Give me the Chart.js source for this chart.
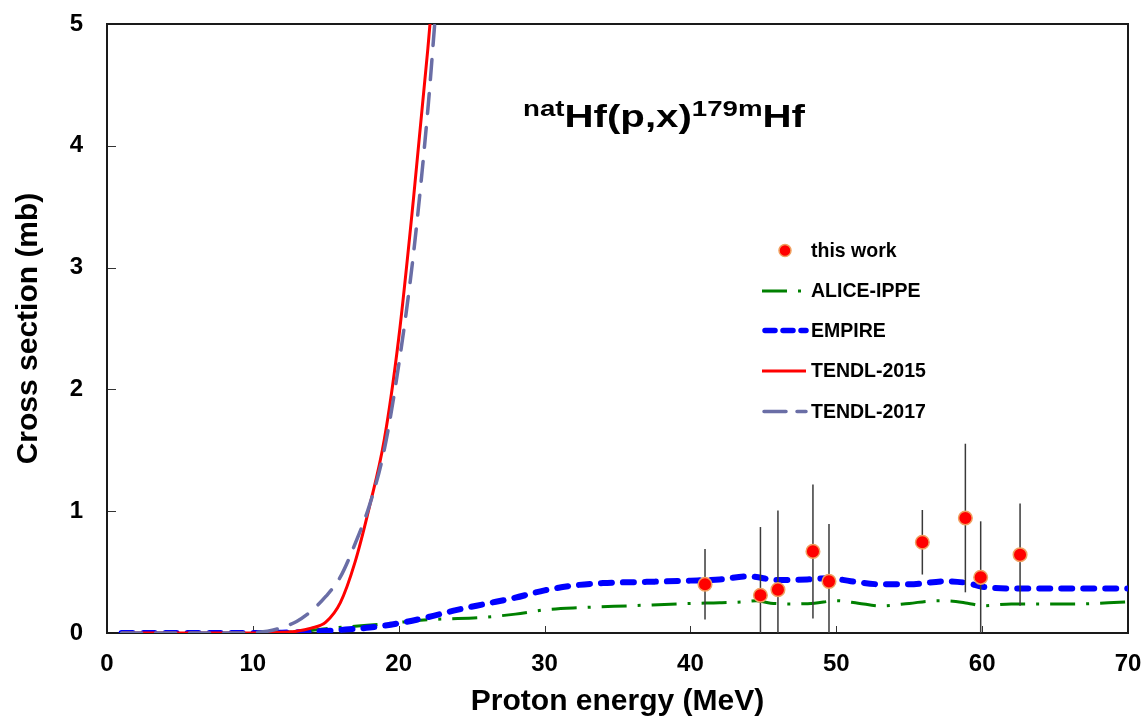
<!DOCTYPE html>
<html>
<head>
<meta charset="utf-8">
<script src="https://cdn.jsdelivr.net/npm/chart.js@4/dist/chart.umd.min.js"></script>
<style>
  html, body { margin: 0; padding: 0; background: #fff; }
  #wrap { width: 1145px; height: 725px; }
</style>
</head>
<body>
<div id="wrap"><canvas id="xs" width="1145" height="725"></canvas></div>
<script>
// Measured cross sections (this work)
const expEnergy = [41.0, 44.8, 46.0, 48.4, 49.5, 55.9, 58.85, 59.9, 62.6];
const expSigma  = [0.40, 0.31, 0.356, 0.67, 0.424, 0.745, 0.944, 0.457, 0.643];
const expError  = [0.29, 0.56, 0.65, 0.55, 0.47, 0.265, 0.61, 0.46, 0.42];

// ALICE-IPPE
const aliceEnergy = [10, 12, 14, 15, 17, 19.5, 21.5, 23, 25.5, 28, 30, 32.5, 36, 40, 42, 43.5, 44.5, 45.5, 47, 48.5, 50, 51.5, 53, 55, 56.5, 57.5, 59, 60, 62, 66, 70];
const aliceSigma  = [0, 0.005, 0.02, 0.035, 0.055, 0.08, 0.105, 0.115, 0.126, 0.155, 0.19, 0.208, 0.224, 0.243, 0.248, 0.255, 0.265, 0.245, 0.238, 0.245, 0.265, 0.245, 0.222, 0.243, 0.263, 0.265, 0.245, 0.224, 0.238, 0.238, 0.255];

// EMPIRE
const empireEnergy = [1, 5, 10, 12, 14, 16, 18, 20, 22, 24, 26, 28, 30, 32, 34, 37, 40, 42, 44, 46, 48, 49.5, 51, 53, 55, 57.5, 59, 60, 62, 66, 70];
const empireSigma  = [0, 0, 0, 0.003, 0.01, 0.025, 0.045, 0.08, 0.13, 0.19, 0.24, 0.29, 0.35, 0.39, 0.41, 0.42, 0.43, 0.44, 0.465, 0.435, 0.44, 0.45, 0.425, 0.40, 0.40, 0.425, 0.41, 0.38, 0.365, 0.365, 0.365];

// TENDL-2015
const tendl15Energy = [1, 5, 10, 11, 12, 13, 14, 15, 16, 17, 18, 19, 20, 21, 22, 22.5];
const tendl15Sigma  = [0, 0, 0, 0.002, 0.006, 0.015, 0.04, 0.09, 0.25, 0.58, 1.04, 1.58, 2.42, 3.55, 4.8, 5.5];

// TENDL-2017
const tendl17Energy = [1, 5, 9, 10, 11, 12, 13, 14, 15, 16, 17, 18, 19, 20, 21, 22, 22.5, 23];
const tendl17Sigma  = [0, 0, 0, 0.005, 0.015, 0.045, 0.095, 0.18, 0.3, 0.46, 0.73, 1.05, 1.5, 2.2, 3.1, 4.3, 5.05, 5.8];

// Axis ranges and tick steps
const xRange = [0, 70], xStep = 10;
const yRange = [0, 5],  yStep = 1;

const FONT = "'Liberation Sans', Arial, Helvetica, sans-serif";
const pairs = (xs, ys) => xs.map((x, i) => ({ x: x, y: ys[i] }));

const COLORS = {
  point: '#ff0000', pointEdge: '#f0a060',
  alice: '#008000', empire: '#0000ff', t15: '#ff0000', t17: '#6a6ea6',
  bar: '#3a3a3a', frame: '#1a1a1a'
};

const decor = {
  id: 'decor',
  beforeDatasetsDraw(chart) {
    const { ctx, chartArea: a, scales: { x, y } } = chart;
    ctx.save();
    // inward tick marks
    ctx.strokeStyle = '#333';
    ctx.lineWidth = 1;
    for (let v = xRange[0] + xStep; v < xRange[1]; v += xStep) {
      const px = Math.round(x.getPixelForValue(v)) + 0.5;
      ctx.beginPath(); ctx.moveTo(px, a.bottom); ctx.lineTo(px, a.bottom - 7); ctx.stroke();
    }
    for (let v = yRange[0] + yStep; v < yRange[1]; v += yStep) {
      const py = Math.round(y.getPixelForValue(v)) + 0.5;
      ctx.beginPath(); ctx.moveTo(a.left, py); ctx.lineTo(a.left + 9, py); ctx.stroke();
    }
    // plot frame
    ctx.strokeStyle = COLORS.frame;
    ctx.lineWidth = 2;
    ctx.strokeRect(a.left, a.top, a.right - a.left, a.bottom - a.top);
    ctx.restore();
  },
  beforeDatasetDraw(chart, args) {
    if (args.index !== 0) return;
    const { ctx, chartArea: a, scales: { x, y } } = chart;
    ctx.save();
    ctx.beginPath();
    ctx.rect(a.left, a.top, a.right - a.left, a.bottom - a.top);
    ctx.clip();
    ctx.strokeStyle = COLORS.bar;
    ctx.lineWidth = 1.5;
    expEnergy.forEach((e, i) => {
      const px = x.getPixelForValue(e);
      ctx.beginPath();
      ctx.moveTo(px, y.getPixelForValue(expSigma[i] - expError[i]));
      ctx.lineTo(px, y.getPixelForValue(expSigma[i] + expError[i]));
      ctx.stroke();
    });
    ctx.restore();
  },
  afterDraw(chart) {
    const ctx = chart.ctx;
    ctx.save();
    // reaction label with superscripts
    const parts = [
      { t: 'nat', sup: true }, { t: 'Hf(p,x)' }, { t: '179m', sup: true }, { t: 'Hf' }
    ];
    const mainFont = 'bold 32px ' + FONT, supFont = 'bold 22px ' + FONT;
    let natural = 0;
    parts.forEach(p => { ctx.font = p.sup ? supFont : mainFont; p.w = ctx.measureText(p.t).width; natural += p.w; });
    const k = 282 / natural;
    ctx.translate(523, 127);
    ctx.scale(k, 1);
    ctx.fillStyle = '#000';
    ctx.textBaseline = 'alphabetic';
    ctx.textAlign = 'left';
    let cx = 0;
    parts.forEach(p => {
      ctx.font = p.sup ? supFont : mainFont;
      ctx.fillText(p.t, cx, p.sup ? -11 : 0);
      cx += p.w;
    });
    ctx.restore();

    // legend
    ctx.save();
    ctx.font = 'bold 19.5px ' + FONT;
    ctx.fillStyle = '#000';
    ctx.textBaseline = 'middle';
    ctx.textAlign = 'left';
    const tx = 811;
    const rows = [
      { label: 'this work', y: 250.5 },
      { label: 'ALICE-IPPE', y: 291 },
      { label: 'EMPIRE', y: 330.5 },
      { label: 'TENDL-2015', y: 371 },
      { label: 'TENDL-2017', y: 411.5 }
    ];
    rows.forEach(r => ctx.fillText(r.label, tx, r.y + 1));

    // sample: marker
    ctx.beginPath();
    ctx.arc(785, rows[0].y, 6, 0, Math.PI * 2);
    ctx.fillStyle = COLORS.point; ctx.fill();
    ctx.lineWidth = 1.5; ctx.strokeStyle = COLORS.pointEdge; ctx.stroke();

    const sample = (r, color, width, dash, cap, x0, x1) => {
      ctx.beginPath();
      ctx.strokeStyle = color; ctx.lineWidth = width;
      ctx.setLineDash(dash); ctx.lineCap = cap;
      ctx.moveTo(x0, r.y); ctx.lineTo(x1, r.y); ctx.stroke();
    };
    sample(rows[1], COLORS.alice, 3, [25, 11, 3, 11], 'butt', 762, 808);
    sample(rows[2], COLORS.empire, 5.5, [10, 8], 'round', 765, 806);
    sample(rows[3], COLORS.t15, 3, [], 'butt', 762, 806);
    sample(rows[4], COLORS.t17, 3.5, [22, 11], 'round', 764, 806);
    ctx.restore();
  }
};

const zeroPad = s => { s.paddingTop = 0; s.paddingBottom = 0; s.paddingLeft = 0; s.paddingRight = 0; };

new Chart(document.getElementById('xs'), {
  type: 'scatter',
  data: {
    datasets: [
      {
        label: 'this work',
        data: pairs(expEnergy, expSigma),
        pointRadius: 6.8, pointHoverRadius: 6.8,
        pointBackgroundColor: COLORS.point,
        pointBorderColor: COLORS.pointEdge,
        pointBorderWidth: 1.5,
        showLine: false
      },
      {
        label: 'TENDL-2017',
        data: pairs(tendl17Energy, tendl17Sigma),
        showLine: true, pointRadius: 0,
        borderColor: COLORS.t17, borderWidth: 3.5,
        borderDash: [20, 14], borderCapStyle: 'round',
        cubicInterpolationMode: 'monotone'
      },
      {
        label: 'TENDL-2015',
        data: pairs(tendl15Energy, tendl15Sigma),
        showLine: true, pointRadius: 0,
        borderColor: COLORS.t15, borderWidth: 3,
        cubicInterpolationMode: 'monotone'
      },
      {
        label: 'EMPIRE',
        data: pairs(empireEnergy, empireSigma),
        showLine: true, pointRadius: 0,
        borderColor: COLORS.empire, borderWidth: 6,
        borderDash: [11, 11], borderCapStyle: 'round',
        cubicInterpolationMode: 'monotone'
      },
      {
        label: 'ALICE-IPPE',
        data: pairs(aliceEnergy, aliceSigma),
        showLine: true, pointRadius: 0,
        borderColor: COLORS.alice, borderWidth: 3,
        borderDash: [25, 11, 3, 11],
        cubicInterpolationMode: 'monotone'
      }
    ]
  },
  options: {
    responsive: false,
    devicePixelRatio: 1,
    animation: false,
    layout: { padding: { top: 24, right: 17, bottom: 0, left: 0 } },
    plugins: { legend: { display: false }, tooltip: { enabled: false } },
    scales: {
      x: {
        type: 'linear',
        min: xRange[0], max: xRange[1],
        grid: { display: false, drawTicks: false },
        border: { display: false },
        ticks: {
          stepSize: xStep, autoSkip: false, maxRotation: 0, padding: 17,
          color: '#000', font: { family: FONT, size: 24, weight: 'bold' }
        },
        title: {
          display: true, text: 'Proton energy (MeV)', color: '#000',
          font: { family: FONT, size: 30, weight: 'bold' },
          padding: { top: 0, bottom: 5 }
        },
        afterFit: s => { zeroPad(s); s.height = 92; }
      },
      y: {
        type: 'linear',
        min: yRange[0], max: yRange[1],
        grid: { display: false, drawTicks: false },
        border: { display: false },
        ticks: {
          stepSize: yStep, padding: 24,
          color: '#000', font: { family: FONT, size: 24, weight: 'bold' }
        },
        title: {
          display: true, text: 'Cross section (mb)', color: '#000',
          font: { family: FONT, size: 30, weight: 'bold' },
          padding: { top: 11, bottom: 0 }
        },
        afterFit: s => { zeroPad(s); s.width = 107; }
      }
    }
  },
  plugins: [decor]
});
</script>
</body>
</html>
